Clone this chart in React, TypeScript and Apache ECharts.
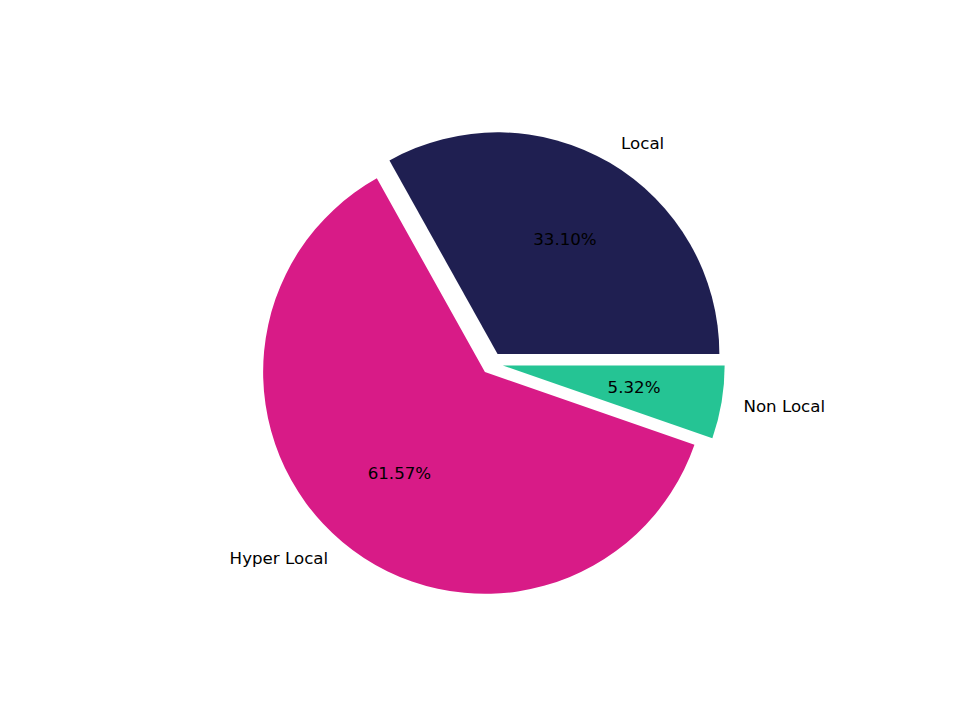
import { useEffect, useRef } from 'react';
import * as echarts from 'echarts';

// Slice data (percent shares)
const categories = ['Local', 'Hyper Local', 'Non Local'];
const shares = [33.1, 61.57, 5.32];
const colors = ['#1f1f51', '#d81b87', '#25c494'];

const FONT = "'DejaVu Sans', sans-serif";
const R = 221.8;
const CENTER = [492, 363.6];
const EXPLODE = 11;

export default function App() {
  const chartRef = useRef<HTMLDivElement>(null);

  useEffect(() => {
    if (!chartRef.current) return;
    const chart = echarts.init(chartRef.current, null, { renderer: 'svg' });

    const base = {
      type: 'pie' as const,
      center: CENTER,
      startAngle: 0,
      clockwise: false,
      avoidLabelOverlap: false,
      selectedMode: 'multiple' as const,
      selectedOffset: EXPLODE,
      minAngle: 0,
      emphasis: { disabled: true },
    };

    const option: echarts.EChartsOption = {
      animation: false,
      backgroundColor: '#ffffff',
      series: [
        {
          ...base,
          name: 'shares',
          radius: [0, R],
          itemStyle: { borderWidth: 0 },
          label: {
            show: true,
            position: 'outside',
            alignTo: 'none',
            distanceToLabelLine: 0,
            formatter: '{b}',
            color: '#000',
            fontFamily: FONT,
            fontSize: 16.67,
          },
          labelLine: { show: false, length: R * 0.1, length2: 0 },
          data: categories.map((name, i) => ({
            name,
            value: shares[i],
            selected: true,
            itemStyle: { color: colors[i] },
            select: { itemStyle: { color: colors[i] } },
          })),
        },
        {
          ...base,
          name: 'pct',
          silent: true,
          radius: [0, R * 1.2 - 6],
          itemStyle: { color: 'rgba(0,0,0,0)', borderWidth: 0 },
          label: {
            show: true,
            position: 'inside',
            formatter: (p: any) => `${p.value.toFixed(2)}%`,
            color: '#000',
            fontFamily: FONT,
            fontSize: 16.67,
          },
          labelLine: { show: false },
          data: categories.map((name, i) => ({
            name,
            value: shares[i],
            selected: true,
            select: { itemStyle: { color: 'rgba(0,0,0,0)' } },
          })),
        },
      ],
    };

    chart.setOption(option);
    return () => chart.dispose();
  }, []);

  return (
    <div
      ref={chartRef}
      style={{ position: 'absolute', left: 0, top: 0, width: 960, height: 720 }}
    />
  );
}
